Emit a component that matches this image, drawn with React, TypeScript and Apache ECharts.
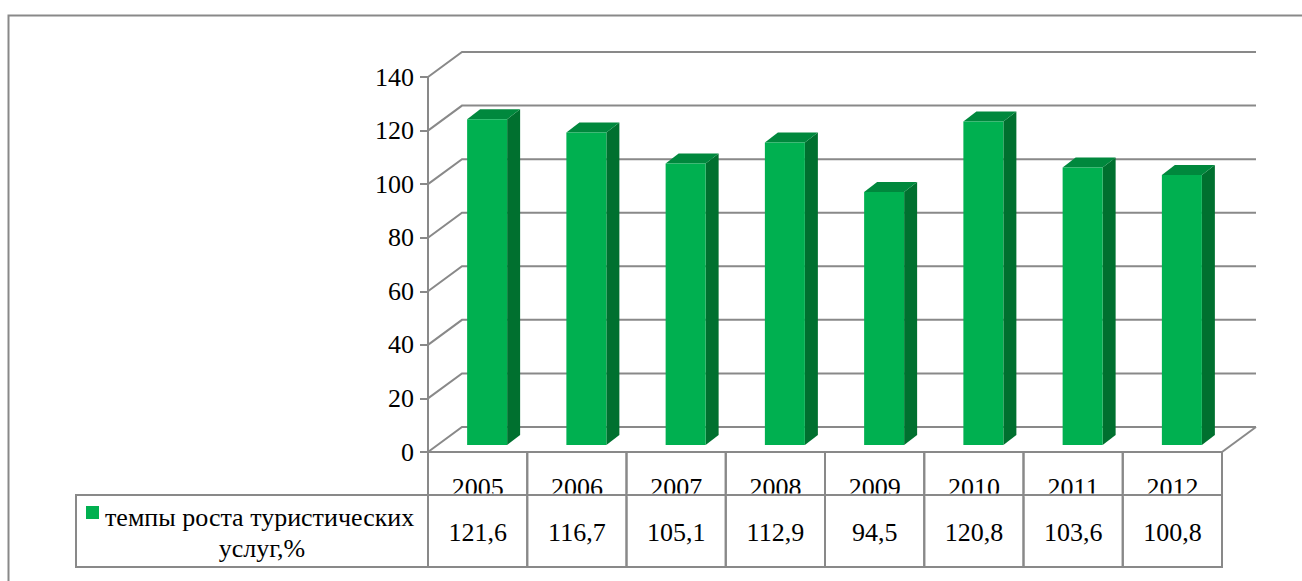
import React, { useEffect, useRef } from "react";
import * as echarts from "echarts";

const categories = ["2005", "2006", "2007", "2008", "2009", "2010", "2011", "2012"];
const values = [121.6, 116.7, 105.1, 112.9, 94.5, 120.8, 103.6, 100.8];
const yTicks = [0, 20, 40, 60, 80, 100, 120, 140];
const seriesName = "темпы роста туристических услуг,%";
const legendLines = ["темпы роста туристических", "услуг,%"];

const GRAY = "#898989";
const FAMILY = "Liberation Serif";
const FONT = "26px 'Liberation Serif'";
const FRONT = "#00B050";
const TOP = "#00883D";
const SIDE = "#00702F";
const DX = 34;
const DY = 25;

export default function App() {
  const ref = useRef<HTMLDivElement>(null);
  useEffect(() => {
    if (!ref.current) return;
    const chart = echarts.init(ref.current, null, { renderer: "svg" });
    const gridLeft = 428;
    const gridTop = 77;
    const gridWidth = 794;
    const gridHeight = 375;
    const tableBottom = 567;
    const rowSplit = 495;

    const fmt = (v: number) => v.toFixed(1).replace(".", ",");

    const option: any = {
      animation: false,
      backgroundColor: "#ffffff",
      textStyle: { fontFamily: FAMILY },
      grid: { left: gridLeft, top: gridTop, width: gridWidth, height: gridHeight, containLabel: false },
      xAxis: {
        type: "category",
        data: categories,
        show: false,
        boundaryGap: true,
      },
      yAxis: {
        type: "value",
        min: 0,
        max: 140,
        interval: 20,
        axisLine: { show: true, lineStyle: { color: GRAY, width: 2 } },
        axisTick: { show: true, length: 8, lineStyle: { color: GRAY, width: 2 } },
        axisLabel: { color: "#000", fontFamily: FAMILY, fontSize: 26, margin: 14 },
        splitLine: { show: false },
      },
      graphic: [
        {
          type: "rect",
          shape: { x: 8.5, y: 15.5, width: 1400, height: 700 },
          style: { fill: "none", stroke: GRAY, lineWidth: 2 },
          silent: true,
        },
        {
          type: "rect",
          shape: { x: 76, y: rowSplit, width: gridLeft - 76, height: tableBottom - rowSplit },
          style: { fill: "none", stroke: GRAY, lineWidth: 2 },
          silent: true,
        },
        {
          type: "rect",
          shape: { x: 86, y: 506, width: 13, height: 13 },
          style: { fill: FRONT },
          silent: true,
        },
        {
          type: "text",
          style: {
            text: legendLines[0],
            x: 105,
            y: 517,
            fill: "#000",
            font: FONT,
            align: "left",
            verticalAlign: "middle",
          },
          silent: true,
        },
        {
          type: "text",
          style: {
            text: legendLines[1],
            x: 262,
            y: 548,
            fill: "#000",
            font: FONT,
            align: "center",
            verticalAlign: "middle",
          },
          silent: true,
        },
      ],
      series: [
        {
          type: "custom",
          name: "walls",
          silent: true,
          data: [[0, 0]],
          renderItem: (params: any, api: any) => {
            const cs = params.coordSys;
            const x0 = cs.x;
            const x1 = cs.x + cs.width;
            const children: any[] = yTicks.map((v) => {
              const y = api.coord([0, v])[1];
              return {
                type: "polyline",
                shape: { points: [[x0, y], [x0 + DX, y - DY], [x1 + DX, y - DY]] },
                style: { stroke: GRAY, lineWidth: 2, fill: null },
              };
            });
            const y0 = api.coord([0, 0])[1];
            children.push({
              type: "line",
              shape: { x1: x1, y1: y0, x2: x1 + DX, y2: y0 - DY },
              style: { stroke: GRAY, lineWidth: 2 },
            });
            return { type: "group", children };
          },
          z: 1,
        },
        {
          type: "custom",
          name: seriesName,
          data: values.map((v, i) => [i, v]),
          renderItem: (params: any, api: any) => {
            const i = api.value(0);
            const v = api.value(1);
            const [cx, cy] = api.coord([i, v]);
            const by = api.coord([i, 0])[1];
            const w = 40;
            const dx = 13;
            const dy = 10;
            const fx = cx + 9.5 - w / 2;
            const top = cy - 7;
            const bottom = by - 7;
            return {
              type: "group",
              children: [
                {
                  type: "polygon",
                  shape: { points: [[fx + w, top], [fx + w + dx, top - dy], [fx + w + dx, bottom - dy], [fx + w, bottom]] },
                  style: { fill: SIDE },
                },
                {
                  type: "polygon",
                  shape: { points: [[fx, top], [fx + dx, top - dy], [fx + w + dx, top - dy], [fx + w, top]] },
                  style: { fill: TOP },
                },
                {
                  type: "rect",
                  shape: { x: fx, y: top, width: w, height: bottom - top },
                  style: { fill: FRONT },
                },
              ],
            };
          },
          z: 3,
        },
        {
          type: "custom",
          name: "table",
          silent: true,
          data: values.map((v, i) => [i, v]),
          renderItem: (params: any, api: any) => {
            const i = api.value(0);
            const v = api.value(1);
            const [cx, by] = api.coord([i, 0]);
            const w = api.size([1, 0])[0];
            const left = cx - w / 2;
            return {
              type: "group",
              children: [
                {
                  type: "text",
                  style: {
                    text: categories[i],
                    x: cx,
                    y: 487,
                    fill: "#000",
                    font: FONT,
                    align: "center",
                    verticalAlign: "middle",
                  },
                },
                {
                  type: "rect",
                  shape: { x: left, y: rowSplit - 1.5, width: w, height: 3 },
                  style: { fill: "#fff" },
                },
                {
                  type: "rect",
                  shape: { x: left, y: by, width: w, height: tableBottom - by },
                  style: { fill: "none", stroke: GRAY, lineWidth: 2 },
                },
                {
                  type: "line",
                  shape: { x1: left, y1: rowSplit, x2: left + w, y2: rowSplit },
                  style: { stroke: GRAY, lineWidth: 2 },
                },
                {
                  type: "text",
                  style: {
                    text: fmt(v),
                    x: cx,
                    y: 532,
                    fill: "#000",
                    font: FONT,
                    align: "center",
                    verticalAlign: "middle",
                  },
                },
              ],
            };
          },
          z: 4,
        },
      ],
    };
    chart.setOption(option);
    return () => chart.dispose();
  }, []);
  return (
    <div
      ref={ref}
      style={{ position: "fixed", left: 0, top: 0, width: 1302, height: 581 }}
    />
  );
}
